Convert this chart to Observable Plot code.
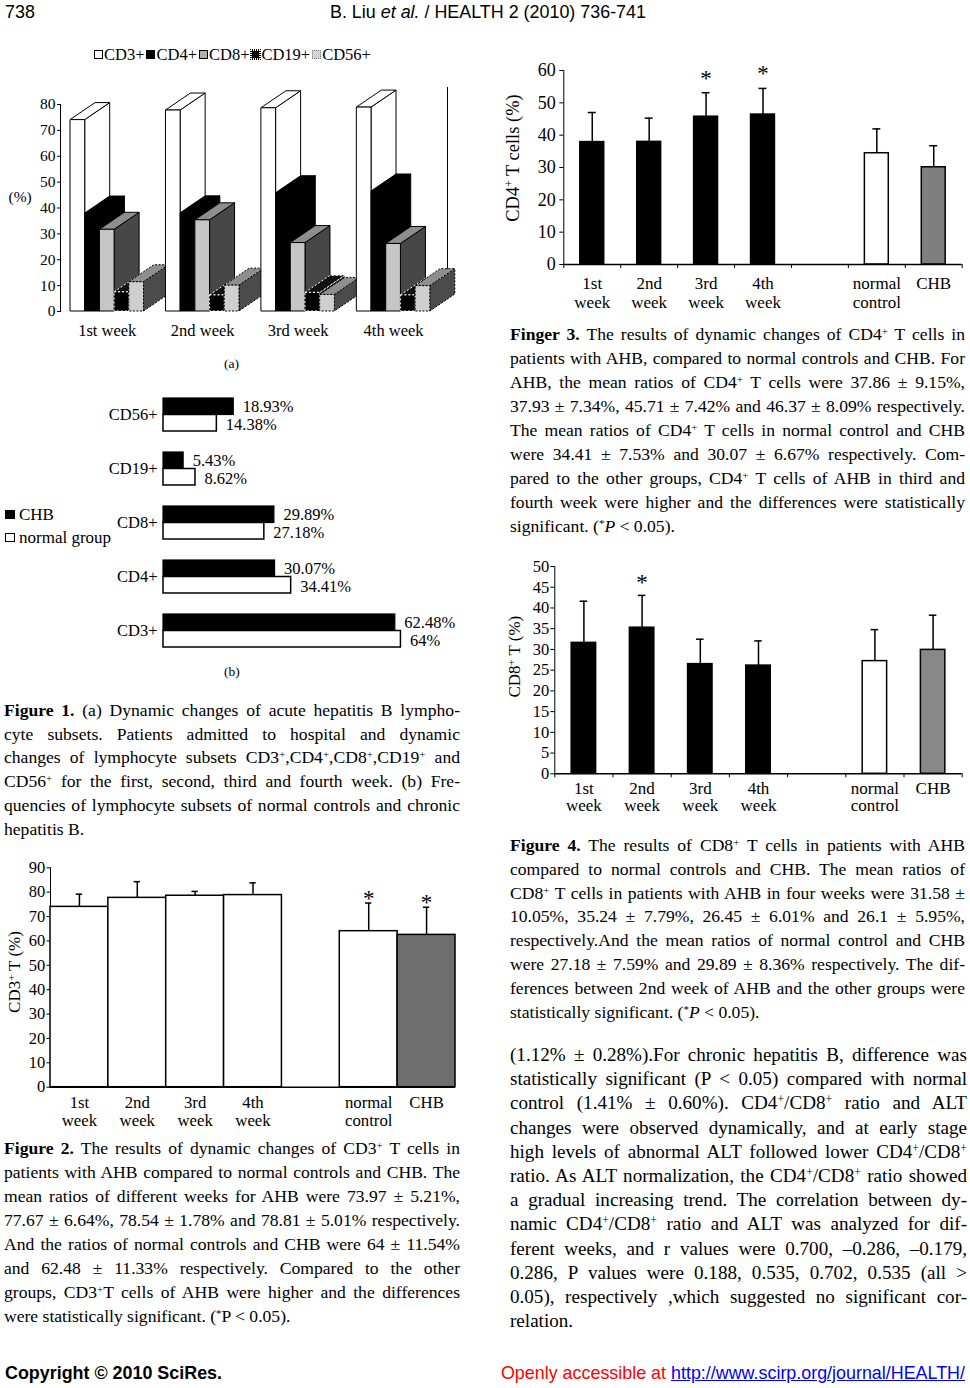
<!DOCTYPE html>
<html>
<head>
<meta charset="utf-8">
<script src="https://cdn.jsdelivr.net/npm/d3@7"></script>
<script src="https://cdn.jsdelivr.net/npm/@observablehq/plot@0.6"></script>
<style>
  body { margin: 0; background: #fff; }
  #page { position: relative; width: 970px; height: 1388px; overflow: hidden; background: #fff; color: #000;
          font-family: "Liberation Serif", "Times New Roman", serif; }
  .abs { position: absolute; }
  .para { position: absolute; }
  .para > div { text-align: justify; text-align-last: justify; }
  .para > div.l { text-align-last: left; }
  sup { font-size: 62%; vertical-align: 0.5em; line-height: 0; }
  .sans { font-family: "Liberation Sans", Arial, sans-serif; }
  .sw { display: inline-block; width: 9px; height: 9px; box-sizing: border-box; margin: 0 1px 0 2px; vertical-align: 1px; }
</style>
</head>
<body>
<div id="page">
  <!-- header -->
  <div class="abs sans" style="left:5px;top:0;font-size:17.9px;line-height:24px;">738</div>
  <div class="abs sans" style="left:330px;top:0;font-size:17.9px;line-height:24px;white-space:nowrap;">B. Liu <i>et al.</i> / HEALTH 2 (2010) 736-741</div>

  <div id="legA" class="abs" style="left:92px;top:45px;font-size:16.5px;line-height:20px;white-space:nowrap;"></div>
  <div class="abs" style="left:224px;top:355px;font-size:13.5px;line-height:18px;">(a)</div>
  <div id="legB" class="abs" style="left:4px;top:503px;font-size:17px;line-height:23px;"></div>
  <div class="abs" style="left:224px;top:663px;font-size:13.5px;line-height:18px;">(b)</div>

  <!-- Figure 1 caption -->
  <div class="para" style="left:4px;top:699px;width:456px;font-size:17.6px;line-height:23.7px;">
    <div><b>Figure 1.</b> (a) Dynamic changes of acute hepatitis B lympho-</div>
    <div>cyte subsets. Patients admitted to hospital and dynamic</div>
    <div>changes of lymphocyte subsets CD3<sup>+</sup>,CD4<sup>+</sup>,CD8<sup>+</sup>,CD19<sup>+</sup> and</div>
    <div>CD56<sup>+</sup> for the first, second, third and fourth week. (b) Fre-</div>
    <div>quencies of lymphocyte subsets of normal controls and chronic</div>
    <div class="l">hepatitis B.</div>
  </div>

  <!-- Figure 2 caption -->
  <div class="para" style="left:4px;top:1136px;width:456px;font-size:17.6px;line-height:24px;">
    <div><b>Figure 2.</b> The results of dynamic changes of CD3<sup>+</sup> T cells in</div>
    <div>patients with AHB compared to normal controls and CHB. The</div>
    <div>mean ratios of different weeks for AHB were 73.97 ± 5.21%,</div>
    <div>77.67 ± 6.64%, 78.54 ± 1.78% and 78.81 ± 5.01% respectively.</div>
    <div>And the ratios of normal controls and CHB were 64 ± 11.54%</div>
    <div>and 62.48 ± 11.33% respectively. Compared to the other</div>
    <div>groups, CD3<sup>+</sup>T cells of AHB were higher and the differences</div>
    <div class="l">were statistically significant. (<sup>*</sup>P &lt; 0.05).</div>
  </div>

  <!-- Figure 3 caption -->
  <div class="para" style="left:510px;top:322px;width:455px;font-size:17.6px;line-height:24px;">
    <div><b>Finger 3.</b> The results of dynamic changes of CD4<sup>+</sup> T cells in</div>
    <div>patients with AHB, compared to normal controls and CHB. For</div>
    <div>AHB, the mean ratios of CD4<sup>+</sup> T cells were 37.86 ± 9.15%,</div>
    <div>37.93 ± 7.34%, 45.71 ± 7.42% and 46.37 ± 8.09% respectively.</div>
    <div>The mean ratios of CD4<sup>+</sup> T cells in normal control and CHB</div>
    <div>were 34.41 ± 7.53% and 30.07 ± 6.67% respectively. Com-</div>
    <div>pared to the other groups, CD4<sup>+</sup> T cells of AHB in third and</div>
    <div>fourth week were higher and the differences were statistically</div>
    <div class="l">significant. (<sup>*</sup><i>P</i> &lt; 0.05).</div>
  </div>

  <!-- Figure 4 caption -->
  <div class="para" style="left:510px;top:834px;width:455px;font-size:17.6px;line-height:23.8px;">
    <div><b>Figure 4.</b> The results of CD8<sup>+</sup> T cells in patients with AHB</div>
    <div>compared to normal controls and CHB. The mean ratios of</div>
    <div>CD8<sup>+</sup> T cells in patients with AHB in four weeks were 31.58 ±</div>
    <div>10.05%, 35.24 ± 7.79%, 26.45 ± 6.01% and 26.1 ± 5.95%,</div>
    <div>respectively.And the mean ratios of normal control and CHB</div>
    <div>were 27.18 ± 7.59% and 29.89 ± 8.36% respectively. The dif-</div>
    <div>ferences between 2nd week of AHB and the other groups were</div>
    <div class="l">statistically significant. (<sup>*</sup><i>P</i> &lt; 0.05).</div>
  </div>

  <!-- body text -->
  <div class="para" style="left:510px;top:1043px;width:457px;font-size:19.1px;line-height:24.2px;">
    <div>(1.12% ± 0.28%).For chronic hepatitis B, difference was</div>
    <div>statistically significant (P &lt; 0.05) compared with normal</div>
    <div>control (1.41% ± 0.60%). CD4<sup>+</sup>/CD8<sup>+</sup> ratio and ALT</div>
    <div>changes were observed dynamically, and at early stage</div>
    <div>high levels of abnormal ALT followed lower CD4<sup>+</sup>/CD8<sup>+</sup></div>
    <div>ratio. As ALT normalization, the CD4<sup>+</sup>/CD8<sup>+</sup> ratio showed</div>
    <div>a gradual increasing trend. The correlation between dy-</div>
    <div>namic CD4<sup>+</sup>/CD8<sup>+</sup> ratio and ALT was analyzed for dif-</div>
    <div>ferent weeks, and r values were 0.700, –0.286, –0.179,</div>
    <div>0.286, P values were 0.188, 0.535, 0.702, 0.535 (all &gt;</div>
    <div>0.05), respectively ,which suggested no significant cor-</div>
    <div class="l">relation.</div>
  </div>

  <!-- footer -->
  <div class="abs sans" style="left:5px;top:1361px;font-size:17.9px;line-height:24px;font-weight:bold;white-space:nowrap;">Copyright © 2010 SciRes.</div>
  <div class="abs sans" style="right:5px;top:1361px;font-size:17.9px;line-height:24px;white-space:nowrap;"><span style="color:#ff0000;">Openly accessible at </span><span style="color:#0000ff;text-decoration:underline;">http://www.scirp.org/journal/HEALTH/</span></div>
</div>

<script>
// ---------------- data ----------------
// Figure 1(a): lymphocyte subsets by week (AHB)
const weeks = ["1st week", "2nd week", "3rd week", "4th week"];
const subsets = ["CD3+", "CD4+", "CD8+", "CD19+", "CD56+"];
const cd3Weekly = [73.97, 77.67, 78.54, 78.81];
const cd4Weekly = [37.86, 37.93, 45.71, 46.37];
const cd8Weekly = [31.58, 35.24, 26.45, 26.1];
const cd19Weekly = [7.4, 6.2, 7.2, 6.2];
const cd56Weekly = [11.3, 10.0, 6.4, 9.8];

// Figure 1(b): normal group vs CHB
const subsetsB = ["CD56+", "CD19+", "CD8+", "CD4+", "CD3+"];
const chbB = [18.93, 5.43, 29.89, 30.07, 62.48];
const normalB = [14.38, 8.62, 27.18, 34.41, 64];
const groupsB = ["CHB", "normal group"];

// Figures 2-4: groups
const groupLabelTop = ["1st", "2nd", "3rd", "4th", "normal", "CHB"];
const groupLabelBottom = ["week", "week", "week", "week", "control", ""];
const groupKind = ["AHB", "AHB", "AHB", "AHB", "normal", "CHB"];
const groupSlot = [0, 1, 2, 3, 5, 6];

const cd3Mean = [73.97, 77.67, 78.54, 78.81, 64, 62.48];
const cd3SD = [5.21, 6.64, 1.78, 5.01, 11.54, 11.33];
const cd3Sig = [false, false, false, false, true, true];

const cd4Mean = [37.86, 37.93, 45.71, 46.37, 34.41, 30.07];
const cd4SD = [9.15, 7.34, 7.42, 8.09, 7.53, 6.67];
const cd4Sig = [false, false, true, true, false, false];

const cd8Mean = [31.58, 35.24, 26.45, 26.1, 27.18, 29.89];
const cd8SD = [10.05, 7.79, 6.01, 5.95, 7.59, 8.36];
const cd8Sig = [false, true, false, false, false, false];

// ---------------- helpers ----------------
const page = document.getElementById("page");
function place(node, left, top) {
  const d = document.createElement("div");
  d.className = "abs";
  d.style.left = left + "px";
  d.style.top = top + "px";
  d.appendChild(node);
  page.appendChild(d);
}
const SERIF = "Liberation Serif, Times New Roman, serif";

function yLabel(main, sup, rest, dx, dy, size) {
  return (index, scales, values, dims) => {
    const cx = dims.marginLeft + dx;
    const cy = (dims.marginTop + dims.height - dims.marginBottom) / 2 + dy;
    const t = d3.create("svg:text")
      .attr("transform", `translate(${cx},${cy}) rotate(-90)`)
      .attr("text-anchor", "middle")
      .attr("dy", "0.32em")
      .attr("font-size", size)
      .attr("fill", "#000");
    t.append("tspan").text(main);
    t.append("tspan").attr("baseline-shift", "super").attr("font-size", "62%").text(sup);
    t.append("tspan").text(rest);
    return t.node();
  };
}

// ---------------- Figure 1(a): 3D columns ----------------
const weeklyBySubset = [cd3Weekly, cd4Weekly, cd8Weekly, cd19Weekly, cd56Weekly];
const bars1a = [];
weeks.forEach((w, g) => subsets.forEach((s, k) => bars1a.push({g, k, subset: s, value: weeklyBySubset[k][g]})));
const faceStyle = {
  "CD3+": {front: "#fff", top: "#fff", side: "#fff", stroke: "#000"},
  "CD4+": {front: "#000", top: "#000", side: "#000", stroke: "#000"},
  "CD8+": {front: "#c6c6c6", top: "#8e8e8e", side: "#474747", stroke: "#000"},
  "CD19+": {front: "#000", top: "#111", side: "#222", stroke: "#fff", dash: "2,2"},
  "CD56+": {front: "#cfcfcf", top: "#8e8e8e", side: "#4b4b4b", stroke: "#000", dash: "2,1.5"}
};
const bw = 0.154;
function bars3D(index, scales) {
  const {x, y} = scales;
  const g = d3.create("svg:g");
  const D = 25, H = 17;
  for (const b of bars1a) {
    const st = faceStyle[b.subset];
    const x1 = x(b.g + b.k * bw), x2 = x(b.g + (b.k + 1) * bw), yt = y(b.value), yb = y(0);
    const poly = (pts, fill) => g.append("polygon")
      .attr("points", pts.map(p => p.join(",")).join(" "))
      .attr("fill", fill).attr("stroke", st.stroke).attr("stroke-width", 1)
      .attr("stroke-dasharray", st.dash || null).attr("stroke-linejoin", "round");
    poly([[x2, yt], [x2 + D, yt - H], [x2 + D, yb - H], [x2, yb]], st.side);
    poly([[x1, yt], [x1 + D, yt - H], [x2 + D, yt - H], [x2, yt]], st.top);
    poly([[x1, yt], [x2, yt], [x2, yb], [x1, yb]], st.front);
  }
  return g.node();
}
const fig1a = Plot.plot({
  width: 480, height: 340,
  marginLeft: 60, marginRight: 33, marginTop: 64, marginBottom: 69,
  style: {fontFamily: SERIF, fontSize: "15.5px", background: "none", overflow: "visible", color: "#000"},
  x: {domain: [-0.105, 3.95], axis: null},
  y: {domain: [0, 80], ticks: d3.range(0, 81, 10), tickSize: 3, tickPadding: 2, line: true, label: null},
  marks: [
    Plot.ruleX([3.95], {y1: 0, y2: 80, dy: -17, stroke: "#000", strokeWidth: 1}),
    bars3D,
    Plot.text(weeks, {x: (d, i) => i + 2.5 * bw, y: 0, text: d => d, dy: 19, fontSize: 16.5}),
    Plot.text(["(%)"], {frameAnchor: "left", dx: -52, dy: -11, fontSize: 15.5})
  ]
});
place(fig1a, 0, 40);

// legend 1(a)
const legStyle = {
  "CD3+": "background:#fff;border:1px solid #000;",
  "CD4+": "background:#000;",
  "CD8+": "background:#b0b0b0;border:1px solid #000;",
  "CD19+": "background:#000;border:1px dotted #fff;outline:1px dotted #000;",
  "CD56+": "background:#d4d4d4;border:1px dotted #777;"
};
document.getElementById("legA").innerHTML = subsets
  .map(s => `<span class="sw" style="${legStyle[s]}"></span>${s}`).join("");

// ---------------- Figure 1(b): horizontal bars ----------------
const rowsB = subsetsB.map((c, i) => ({cat: c, chb: chbB[i], normal: normalB[i]}));
const fig1b = Plot.plot({
  width: 380, height: 280,
  marginLeft: 63, marginRight: 20.2, marginTop: 16.5, marginBottom: 11.5,
  style: {fontFamily: SERIF, fontSize: "16.5px", background: "none", overflow: "visible", color: "#000"},
  x: {domain: [0, 80], axis: null},
  y: {domain: subsetsB, paddingInner: 0.397, paddingOuter: 0, tickSize: 0, tickPadding: 6, label: null},
  marks: [
    Plot.barX(rowsB, {x: "chb", y: "cat", fill: "#000", stroke: "#000", strokeWidth: 1.2, insetBottom: 16.5}),
    Plot.barX(rowsB, {x: "normal", y: "cat", fill: "#fff", stroke: "#000", strokeWidth: 1.5, insetTop: 16.5}),
    Plot.text(rowsB, {x: "chb", y: "cat", text: d => d.chb + "%", textAnchor: "start", dx: 9, dy: -8}),
    Plot.text(rowsB, {x: "normal", y: "cat", text: d => d.normal + "%", textAnchor: "start", dx: 9, dy: 10})
  ]
});
place(fig1b, 100, 380);

document.getElementById("legB").innerHTML = groupsB.map((g, i) =>
  `<div><span class="sw" style="width:10px;height:9px;margin:0 4px 0 1px;${i === 0 ? "background:#000;" : "background:#fff;border:1.5px solid #000;"}"></span>${g}</div>`
).join("");

// ---------------- Figures 2-4: bar charts with error bars ----------------
function barChart(o) {
  const rows = groupKind.map((k, i) => ({
    i: groupSlot[i], kind: k, top: groupLabelTop[i], bot: groupLabelBottom[i],
    mean: o.mean[i], sd: o.sd[i], sig: o.sig[i]
  }));
  return Plot.plot({
    width: o.width, height: o.height,
    marginLeft: o.ml, marginRight: o.mr, marginTop: o.mt, marginBottom: o.mb,
    style: {fontFamily: SERIF, fontSize: o.tickFont + "px", background: "none", overflow: "visible", color: "#000"},
    x: o.xticks
      ? {domain: [0, 7], ticks: d3.range(0, 8), tickSize: 4, tickFormat: () => "", label: null}
      : {domain: [0, 7], axis: null},
    y: {domain: [0, o.yMax], ticks: d3.range(0, o.yMax + 1, o.yStep), tickSize: o.tickSize,
        tickPadding: o.tickPadding, line: true, label: null},
    marks: [
      Plot.rectY(rows, {x1: d => d.i + o.pad, x2: d => d.i + 1 - o.pad, y1: 0, y2: "mean",
        fill: d => o.colors[d.kind], stroke: "#000", strokeWidth: 1.5}),
      Plot.ruleX(rows, {x: d => d.i + 0.5, y1: "mean", y2: d => d.mean + d.sd, stroke: "#000", strokeWidth: 1.5}),
      Plot.ruleY(rows, {y: d => d.mean + d.sd, x1: d => d.i + 0.5 - o.cap, x2: d => d.i + 0.5 + o.cap,
        stroke: "#000", strokeWidth: 1.5}),
      Plot.ruleY([0], {stroke: "#000", strokeWidth: 1.5}),
      Plot.text(rows.filter(d => d.sig), {x: d => d.i + 0.5, y: d => d.mean + d.sd, text: () => "*",
        fontSize: 23, lineAnchor: "bottom", dy: o.starDy}),
      Plot.text(rows, {x: d => d.i + 0.5, y: 0, text: "top", dy: o.l1, fontSize: o.labFont}),
      Plot.text(rows, {x: d => d.i + 0.5, y: 0, text: "bot", dy: o.l2, fontSize: o.labFont}),
      yLabel(o.label[0], o.label[1], o.label[2], o.ldx, o.ldy, o.yLabFont)
    ]
  });
}

const fig2 = barChart({
  mean: cd3Mean, sd: cd3SD, sig: cd3Sig,
  width: 470, height: 290, ml: 50, mr: 15, mt: 17.3, mb: 53.3,
  yMax: 90, yStep: 10, tickSize: 3.5, tickPadding: 1.7, tickFont: 16.5, xticks: false,
  pad: 0, cap: 0.055, starDy: 3, l1: 15, l2: 33.3, labFont: 16.8, yLabFont: 17,
  colors: {AHB: "#fff", normal: "#fff", CHB: "#6e6e6e"},
  label: ["CD3", "+", " T (%)"], ldx: -35, ldy: -5
});
place(fig2, 0, 850);

const fig3 = barChart({
  mean: cd4Mean, sd: cd4SD, sig: cd4Sig,
  width: 480, height: 280, ml: 73.3, mr: 8.3, mt: 30, mb: 56,
  yMax: 60, yStep: 10, tickSize: 4, tickPadding: 4, tickFont: 18, xticks: true,
  pad: 0.29, cap: 0.07, starDy: -7, l1: 19, l2: 37.7, labFont: 17, yLabFont: 18.5,
  colors: {AHB: "#000", normal: "#fff", CHB: "#7f7f7f"},
  label: ["CD4", "+", " T cells (%)"], ldx: -50, ldy: -9
});
place(fig3, 490, 40);

const fig4 = barChart({
  mean: cd8Mean, sd: cd8SD, sig: cd8Sig,
  width: 480, height: 270, ml: 64.3, mr: 8.3, mt: 16, mb: 46.7,
  yMax: 50, yStep: 5, tickSize: 4, tickPadding: 1.5, tickFont: 16.5, xticks: true,
  pad: 0.29, cap: 0.065, starDy: -5, l1: 14.7, l2: 31.7, labFont: 17, yLabFont: 17,
  colors: {AHB: "#000", normal: "#fff", CHB: "#888888"},
  label: ["CD8", "+", " T (%)"], ldx: -39.3, ldy: -13
});
place(fig4, 490, 550);
</script>
</body>
</html>
